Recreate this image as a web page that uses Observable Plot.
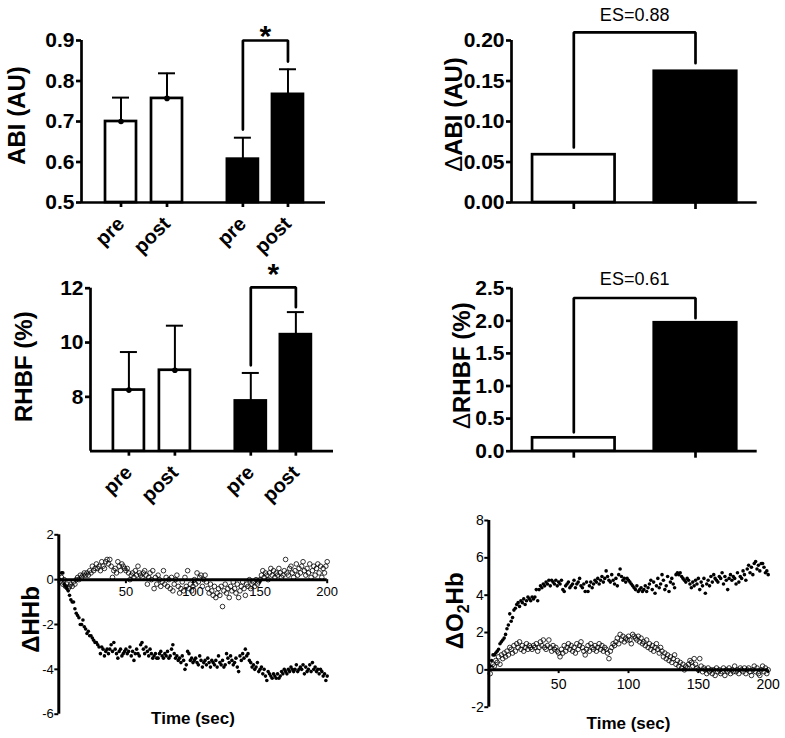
<!DOCTYPE html>
<html>
<head>
<meta charset="utf-8">
<script src="https://cdn.jsdelivr.net/npm/d3@7"></script>
<script src="https://cdn.jsdelivr.net/npm/@observablehq/plot@0.6"></script>
<style>
  body { margin: 0; background: #fff; }
  #fig { position: relative; width: 785px; height: 738px; background: #fff; overflow: hidden; }
  #fig svg { position: absolute; overflow: visible; }
</style>
</head>
<body>
<div id="fig"></div>
<script>
// ---------- data ----------
const groupLabels = ["pre", "post", "pre", "post"];
const groupFills = ["white", "white", "black", "black"];

const abiMean = [0.70, 0.757, 0.607, 0.767];
const abiUpper = [0.759, 0.819, 0.66, 0.829];
const abiBracket = [0.68, 0.90, 0.848];
const abiTicks = [0.5, 0.6, 0.7, 0.8, 0.9];

const rhbfMean = [8.25, 8.98, 7.85, 10.29];
const rhbfUpper = [9.65, 10.62, 8.88, 11.12];
const rhbfBracket = [9.16, 12.03, 11.3];
const rhbfTicks = [8, 10, 12];

const deltaFills = ["white", "black"];
const deltaAbi = [0.059, 0.162];
const deltaAbiBracket = [0.068, 0.21, 0.172];
const deltaAbiES = "ES=0.88";
const deltaAbiTicks = [0, 0.05, 0.10, 0.15, 0.20];

const deltaRhbf = [0.205, 1.97];
const deltaRhbfBracket = [0.29, 2.35, 2.04];
const deltaRhbfES = "ES=0.61";
const deltaRhbfTicks = [0, 0.5, 1.0, 1.5, 2.0, 2.5];

const timeTicks = [50, 100, 150, 200];
const hhbTicks = [-6, -4, -2, 0, 2];
const o2hbTicks = [-2, 0, 2, 4, 6, 8];

// seconds 1..200
const hhbFilled = [
  0.0, 0.3, 0.3, -0.2, -0.3, -0.4, -0.5, -0.7, -0.9, -1.0,
  -1.0, -1.3, -1.5, -1.6, -1.7, -2.0, -2.0, -1.8, -2.1, -2.2,
  -2.4, -2.3, -2.5, -2.5, -2.6, -2.7, -2.8, -2.8, -2.9, -3.0,
  -3.3, -3.0, -3.1, -3.4, -3.2, -3.1, -3.3, -3.1, -2.9, -3.2,
  -2.8, -3.1, -3.3, -3.5, -3.2, -3.1, -3.4, -3.3, -3.2, -3.1,
  -3.3, -3.2, -3.0, -3.4, -3.2, -3.6, -3.3, -3.1, -3.3, -3.4,
  -2.9, -2.8, -3.1, -3.3, -3.0, -3.2, -3.4, -3.1, -3.3, -3.5,
  -3.4, -3.3, -3.5, -3.5, -3.3, -3.2, -3.4, -3.5, -3.3, -3.4,
  -3.2, -3.5, -3.4, -3.1, -2.9, -3.3, -3.5, -3.4, -3.6, -3.5,
  -3.7, -3.4, -3.6, -4.0, -3.8, -3.2, -3.3, -3.6, -3.5, -3.7,
  -3.6, -3.5, -3.7, -3.8, -3.4, -3.6, -3.9, -3.7, -3.6, -3.8,
  -3.5, -3.7, -3.9, -3.6, -3.7, -3.8, -3.6, -3.9, -3.4, -3.7,
  -3.8, -3.6, -3.9, -3.8, -3.3, -3.5, -3.7, -3.4, -3.6, -3.8,
  -3.7, -3.5, -3.9, -4.1, -3.4, -3.6, -3.3, -3.5, -3.1, -3.4,
  -3.3, -3.6, -3.7, -3.9, -3.8, -4.0, -3.9, -3.7, -4.1, -4.0,
  -3.9, -4.2, -4.0, -4.3, -4.5, -4.1, -4.2, -4.3, -4.4, -4.2,
  -4.3, -4.4, -4.2, -4.4, -4.3, -4.1, -4.2, -4.0, -4.1, -4.2,
  -4.0, -4.1, -3.9, -4.0, -4.1, -4.0, -3.8, -4.1, -4.0, -3.9,
  -4.0, -3.8, -4.2, -3.9, -4.1, -4.0, -3.8, -4.1, -3.7, -4.0,
  -3.9, -4.1, -4.0, -4.2, -4.0, -4.1, -4.3, -4.2, -4.5, -4.3
];
const hhbOpen = [
  -0.1, 0.1, -0.2, 0.0, -0.3, -0.2, -0.4, -0.3, -0.2, -0.3,
  -0.1, -0.2, 0.0, 0.1, 0.0, 0.2, 0.1, 0.2, 0.3, 0.2,
  0.3, 0.2, 0.4, 0.3, 0.6, 0.4, 0.5, 0.7, 0.5, 0.6,
  0.4, 0.8, 0.6, 0.5, 0.8, 0.9, 0.7, 0.9, 0.6, 0.1,
  0.4, 0.5, 0.3, 0.8, 0.6, 0.4, 0.7, 0.6, 0.5, 0.4,
  0.5, 0.3, 0.0, 0.2, 0.3, 0.1, 0.4, 0.2, 0.6, 0.3,
  0.2, 0.1, 0.3, 0.4, 0.2, -0.2, 0.1, 0.3, 0.0, 0.4,
  -0.4, 0.1, -0.2, 0.2, 0.0, -0.3, -0.1, 0.4, -0.2, 0.1,
  -0.3, 0.0, -0.4, 0.1, -0.5, -0.2, 0.0, 0.2, -0.3, -0.6,
  -0.4, -0.1, -0.5, 0.1, -0.3, 0.4, -0.4, -0.2, -0.5, -0.3,
  0.0, -0.2, 0.3, -0.1, 0.1, 0.2, -0.3, 0.0, 0.2, -0.1,
  -0.4, -0.6, -0.2, -0.5, -0.7, -0.3, -0.8, -0.6, -0.4, -0.7,
  -0.3, -1.2, -0.5, -0.2, -0.6, -0.4, -0.8, -0.3, -0.5, -0.1,
  -0.4, -0.6, -0.2, -0.8, -0.5, -0.3, -0.1, -0.4, -0.7, -0.2,
  -0.3, 0.0, -0.4, -0.2, -0.1, -0.3, 0.0, -0.2, -0.1, 0.0,
  0.2, 0.4, 0.1, 0.3, 0.2, 0.0, 0.3, 0.5, 0.2, 0.4,
  0.1, 0.3, 0.2, 0.5, 0.3, 0.1, 0.2, 0.4, 0.9, 0.3,
  0.2, 0.5, 0.6, 0.3, 0.1, 0.4, 0.7, 0.2, 0.5, 0.3,
  0.6, 0.8, 0.4, 0.2, 0.5, 0.3, 0.7, 0.1, 0.4, 0.6,
  0.2, 0.5, 0.7, 0.3, 0.6, 0.1, 0.5, 0.3, 0.6, 0.8
];
const o2hbFilled = [
  0.2, 0.5, 0.8, 0.8, 0.9, 1.0, 1.1, 1.4, 1.5, 1.6,
  1.7, 1.9, 2.2, 2.4, 3.0, 2.6, 2.8, 3.2, 3.3, 3.5,
  3.6, 3.4, 3.7, 3.6, 3.8, 3.5, 3.7, 3.9, 3.8, 3.7,
  3.9, 3.8, 3.9, 4.3, 3.7, 4.3, 4.5, 4.4, 4.6, 4.5,
  4.7, 4.6, 4.8, 4.5, 4.8, 4.7, 4.6, 4.8, 4.5, 4.7,
  4.6, 4.8, 4.3, 4.2, 4.5, 4.6, 4.7, 4.4, 4.5, 4.6,
  4.8, 4.4, 4.6, 4.7, 4.9, 4.5, 4.4, 4.6, 4.2, 4.7,
  4.2, 4.5, 4.7, 4.4, 4.6, 4.8, 4.7, 4.9, 4.6, 4.8,
  5.0, 4.7, 4.9, 5.3, 5.0, 4.8, 4.7, 5.1, 4.8, 4.6,
  4.9, 4.5, 5.1, 5.4, 5.0, 4.8, 4.9, 4.7, 4.9, 4.8,
  4.7, 4.6, 4.5, 4.4, 4.3, 4.5, 4.2, 4.3, 4.4, 4.2,
  4.3, 4.5, 4.2, 4.4, 4.6, 4.8, 4.3, 4.7, 4.1, 4.5,
  4.9, 4.4, 4.6, 5.1, 4.8, 4.3, 4.5, 5.0, 4.2, 4.7,
  4.9, 4.6, 4.4, 5.1, 5.2, 5.1, 5.2, 5.0, 4.9, 4.8,
  4.7, 4.9, 4.8, 4.6, 4.4, 4.7, 4.5, 4.8, 4.6, 4.9,
  4.3, 4.7, 4.5, 4.9, 4.1, 4.6, 4.8, 4.5, 5.0, 4.7,
  5.1, 4.9, 4.8, 4.7, 5.0, 4.9, 5.2, 4.6, 5.0, 4.8,
  4.3, 4.9, 5.1, 4.8, 5.0, 4.9, 4.6, 5.2, 4.7, 5.0,
  4.9, 5.3, 5.1, 4.8, 5.4, 5.6, 5.2, 5.5, 5.1, 5.7,
  5.8, 5.4, 5.6, 5.3, 5.7, 5.7, 5.5, 5.2, 5.3, 5.1
];
const o2hbOpen = [
  -0.2, 0.1, 0.3, 0.2, 0.5, 0.4, 0.7, 0.3, 0.8, 0.6,
  0.9, 0.7, 1.0, 0.8, 1.2, 1.1, 0.9, 1.3, 1.0, 1.4,
  1.2, 1.5, 1.1, 1.3, 1.0, 1.2, 1.4, 1.1, 1.3, 1.2,
  1.1, 1.3, 1.2, 1.4, 1.0, 1.2, 1.5, 1.3, 1.6, 1.2,
  1.1, 1.3, 1.6, 1.2, 1.0, 1.3, 1.1, 1.2, 1.0, 0.9,
  0.7, 1.1, 0.9, 1.3, 1.0, 1.2, 1.4, 1.1, 1.3, 1.0,
  1.2, 0.9, 1.4, 1.1, 1.3, 1.5, 1.2, 1.0, 0.8, 1.1,
  1.3, 1.0, 1.4, 1.2, 1.1, 1.3, 1.0, 1.2, 1.4, 1.1,
  1.3, 1.0, 1.2, 1.1, 0.9, 0.6, 1.0, 1.2, 1.4, 1.3,
  1.5, 1.7, 1.4, 1.9, 1.6, 1.8, 1.5, 1.7, 1.6, 1.8,
  1.6, 1.4, 1.9, 1.8, 1.7, 1.6, 1.8, 1.5, 1.7, 1.4,
  1.5, 1.3, 1.6, 1.2, 1.4, 1.1, 1.3, 1.0, 1.2, 1.4,
  1.1, 0.9, 1.2, 1.0, 0.7, 0.9, 0.6, 0.8, 0.5, 0.7,
  0.4, 0.6, 0.8, 0.3, 0.5, 0.2, 0.4, 0.1, 0.3, 0.0,
  0.2, 0.1, 0.3, 0.5, 0.4, 0.2, 0.6, 0.3, 0.1, 0.0,
  0.6, 0.2, -0.1, 0.1, 0.0, -0.2, 0.1, -0.1, 0.0, -0.2,
  0.0, -0.3, 0.1, -0.1, 0.0, -0.2, -0.1, 0.1, -0.3, 0.0,
  -0.1, 0.1, -0.2, 0.0, -0.1, 0.2, -0.1, 0.0, -0.2, 0.1,
  0.0, -0.1, 0.1, -0.2, 0.0, 0.1, -0.1, -0.3, 0.0, 0.2,
  -0.1, 0.1, -0.2, -0.3, 0.0, 0.2, -0.1, 0.1, -0.2, 0.0
];
const sampleTimes = d3.range(1, hhbFilled.length + 1);

// ---------- layout helpers ----------
const FONT = "'Liberation Sans', Arial, Helvetica, sans-serif";
const AXW = 2.7;
const fig = document.getElementById("fig");

function mount(svg, left, top) {
  svg.style.left = left + "px";
  svg.style.top = top + "px";
  fig.appendChild(svg);
}

function richText(svg, plain, parts) {
  d3.select(svg).selectAll("text")
    .filter(function () { return this.textContent === plain; })
    .each(function () {
      const t = d3.select(this);
      t.selectAll("*").remove();
      t.text(null);
      for (const p of parts) {
        const s = t.append("tspan").text(p.t);
        if (p.weight) s.attr("font-weight", p.weight);
        if (p.size) s.attr("font-size", p.size);
        if (p.dy) s.attr("dy", p.dy);
      }
    });
}

function barPanel(o) {
  const rows = o.means.map((m, i) => ({
    pos: o.slots[i], mean: m, upper: o.uppers ? o.uppers[i] : null, fill: o.fills[i],
    label: o.xLabels ? o.xLabels[i] : ""
  }));
  const [bLow, bTop, bHigh] = o.bracket;
  const [sl, sr] = o.bracketSlots;
  const marks = [
    Plot.ruleY([o.yDomain[0]], {strokeWidth: AXW}),
    Plot.ruleX([o.xDomain[0]], {strokeWidth: AXW}),
    Plot.rect(rows, {
      x1: d => d.pos - o.barHalf, x2: d => d.pos + o.barHalf,
      y1: () => o.yDomain[0], y2: "mean",
      fill: "fill", stroke: "black", strokeWidth: AXW
    })
  ];
  if (o.uppers) {
    marks.push(
      Plot.ruleX(rows, {x: "pos", y1: "mean", y2: "upper", strokeWidth: 2}),
      Plot.ruleY(rows, {y: "upper", x1: d => d.pos - o.capHalf, x2: d => d.pos + o.capHalf, strokeWidth: 2}),
      Plot.dot(rows.filter(d => d.fill === "white"), {x: "pos", y: "mean", r: 2.8, fill: "black"})
    );
  }
  marks.push(
    Plot.line([{x: sl, y: bLow}, {x: sl, y: bTop}, {x: sr, y: bTop}, {x: sr, y: bHigh}],
      {x: "x", y: "y", strokeWidth: AXW, strokeLinejoin: "miter"}),
    Plot.text([{x: (sl + sr) / 2, y: bTop, s: o.note}], {
      x: "x", y: "y", text: "s", lineAnchor: "bottom", dy: o.noteDy,
      fontSize: o.noteSize, fontWeight: o.noteWeight
    }),
    Plot.axisY({
      ticks: o.yTicks, tickFormat: o.yFormat, tickSize: 5, tickPadding: 2,
      fontSize: 21, fontWeight: "bold", strokeWidth: AXW, label: null
    }),
    Plot.axisX({
      ticks: o.slots, tickFormat: () => "", tickSize: o.xTickSize,
      strokeWidth: AXW, label: null
    })
  );
  if (o.xLabels) {
    marks.push(Plot.text(rows, {
      x: "pos", y: () => o.yDomain[0], text: "label", rotate: -45,
      textAnchor: "end", lineAnchor: "middle", dy: 18,
      fontSize: 20, fontWeight: "bold"
    }));
  }
  marks.push(
    Plot.text([o.yTitle], {
      text: d => d, frameAnchor: "left", rotate: -90, dx: o.titleDx, dy: o.titleDy,
      textAnchor: "middle", lineAnchor: "middle", fontSize: 24, fontWeight: "bold"
    })
  );
  return Plot.plot({
    width: o.width, height: o.height,
    marginLeft: o.m[0], marginRight: o.m[1], marginTop: o.m[2], marginBottom: o.m[3],
    x: {domain: o.xDomain},
    y: {domain: o.yDomain},
    color: {type: "identity"},
    style: {fontFamily: FONT, background: "transparent", overflow: "visible", color: "black"},
    marks
  });
}

function scatterPanel(o) {
  const filled = o.filled.map((v, i) => ({t: sampleTimes[i], v}));
  const open = o.open.map((v, i) => ({t: sampleTimes[i], v}));
  return Plot.plot({
    width: o.width, height: o.height,
    marginLeft: o.m[0], marginRight: o.m[1], marginTop: o.m[2], marginBottom: o.m[3],
    x: {domain: [0, 200], axis: null},
    y: {domain: o.yDomain},
    style: {fontFamily: FONT, background: "transparent", overflow: "visible", color: "black"},
    marks: [
      Plot.axisY({
        ticks: o.yTicks, tickFormat: d => String(d), tickSize: 4, tickPadding: 1,
        fontSize: o.tickFont, strokeWidth: 2, label: null
      }),
      Plot.ruleX([0], {strokeWidth: 3}),
      Plot.ruleY([0], {strokeWidth: 3}),
      Plot.ruleX(timeTicks, {y1: 0, y2: o.tickLen, strokeWidth: 2}),
      Plot.text(timeTicks, {
        x: d => d, y: () => 0, text: d => String(d), dy: o.xLabelDy,
        fontSize: o.tickFont, lineAnchor: "middle"
      }),
      Plot.dot(open, {x: "t", y: "v", r: 2.3, stroke: "black", strokeWidth: 0.8, fill: "none"}),
      Plot.dot(filled, {x: "t", y: "v", r: 1.8, fill: "black", stroke: "none"}),
      Plot.text([o.yTitle], {
        text: d => d, frameAnchor: "left", rotate: -90, dx: o.titleDx, dy: o.titleDy,
        textAnchor: "middle", lineAnchor: "middle", fontSize: 24, fontWeight: "bold"
      }),
      Plot.text(["Time (sec)"], {
        text: d => d, frameAnchor: "bottom", dy: o.timeDy,
        lineAnchor: "middle", fontSize: 17, fontWeight: "bold"
      })
    ]
  });
}

// ---------- panels ----------
const groupSlots = [1, 2, 3.65, 4.63];
const deltaSlots = [1, 2];

const p1 = barPanel({
  width: 340, height: 250, m: [81, 15, 40, 48],
  xDomain: [0.141, 5.446], yDomain: [0.5, 0.9],
  slots: groupSlots, xLabels: groupLabels, fills: groupFills, barHalf: 0.337, capHalf: 0.185,
  means: abiMean, uppers: abiUpper, bracket: abiBracket, bracketSlots: [groupSlots[2], groupSlots[3]],
  note: "*", noteDy: 5, noteSize: 30, noteWeight: "bold",
  yTicks: abiTicks, yFormat: d3.format(".1f"), xTickSize: 5,
  yTitle: "ABI (AU)", titleDx: -64, titleDy: -6
});
mount(p1, 0, 0);

const p2 = barPanel({
  width: 340, height: 250, m: [90, 7, 37.7, 49.3],
  xDomain: [0.165, 5.448], yDomain: [6, 12],
  slots: groupSlots, xLabels: groupLabels, fills: groupFills, barHalf: 0.337, capHalf: 0.185,
  means: rhbfMean, uppers: rhbfUpper, bracket: rhbfBracket, bracketSlots: [groupSlots[2], groupSlots[3]],
  note: "*", noteDy: -3, noteSize: 30, noteWeight: "bold",
  yTicks: rhbfTicks, yFormat: d => String(d), xTickSize: 5,
  yTitle: "RHBF (%)", titleDx: -66, titleDy: -3
});
mount(p2, 0, 250);

const p3 = barPanel({
  width: 385, height: 250, m: [111, 28.3, 40, 48],
  xDomain: [0.488, 2.507], yDomain: [0, 0.2],
  slots: deltaSlots, xLabels: null, fills: deltaFills, barHalf: 0.339,
  means: deltaAbi, uppers: null, bracket: deltaAbiBracket, bracketSlots: deltaSlots,
  note: deltaAbiES, noteDy: -11, noteSize: 18, noteWeight: "normal",
  yTicks: deltaAbiTicks, yFormat: d3.format(".2f"), xTickSize: 7,
  yTitle: "ΔABI (AU)", titleDx: -57, titleDy: -7
});
richText(p3, "ΔABI (AU)", [{t: "Δ", weight: "normal"}, {t: "ABI (AU)"}]);
mount(p3, 400, 0);

const p4 = barPanel({
  width: 385, height: 250, m: [111, 28.3, 37.7, 49.3],
  xDomain: [0.488, 2.507], yDomain: [0, 2.5],
  slots: deltaSlots, xLabels: null, fills: deltaFills, barHalf: 0.339,
  means: deltaRhbf, uppers: null, bracket: deltaRhbfBracket, bracketSlots: deltaSlots,
  note: deltaRhbfES, noteDy: -13, noteSize: 18, noteWeight: "normal",
  yTicks: deltaRhbfTicks, yFormat: d3.format(".1f"), xTickSize: 7,
  yTitle: "ΔRHBF (%)", titleDx: -49, titleDy: -4
});
richText(p4, "ΔRHBF (%)", [{t: "Δ", weight: "normal"}, {t: "RHBF (%)"}]);
mount(p4, 400, 250);

const p5 = scatterPanel({
  width: 390, height: 238, m: [58.3, 63.3, 34.3, 24.3],
  yDomain: [-6, 2], yTicks: hhbTicks, tickFont: 13, tickLen: -0.18, xLabelDy: 12.5,
  filled: hhbFilled, open: hhbOpen,
  yTitle: "ΔHHb", titleDx: -27, titleDy: -5, timeDy: 4
});
mount(p5, 0, 500);

const p6 = scatterPanel({
  width: 385, height: 238, m: [88.3, 17.3, 20, 31.3],
  yDomain: [-2, 8], yTicks: o2hbTicks, tickFont: 14, tickLen: -0.2, xLabelDy: 14.5,
  filled: o2hbFilled, open: o2hbOpen,
  yTitle: "ΔO2Hb", titleDx: -33, titleDy: -3, timeDy: 16
});
richText(p6, "ΔO2Hb", [{t: "ΔO"}, {t: "2", size: 16, dy: 6}, {t: "Hb", dy: -6}]);
mount(p6, 400, 500);
</script>
</body>
</html>
